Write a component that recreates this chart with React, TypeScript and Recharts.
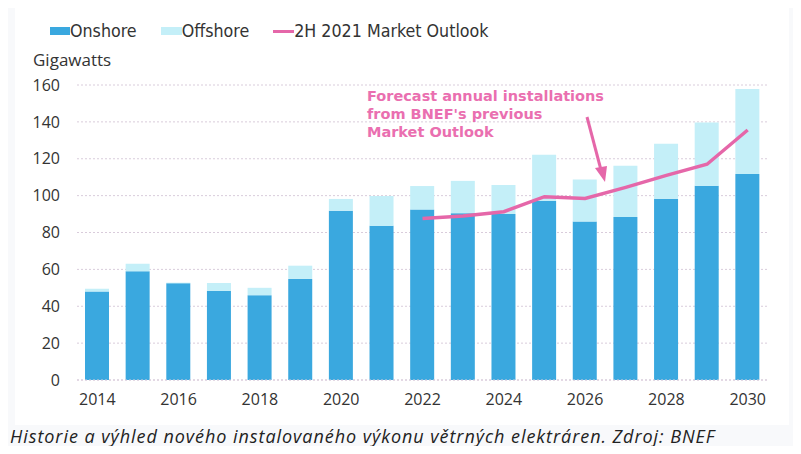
import { ComposedChart, Bar, Line, XAxis, YAxis, CartesianGrid } from "recharts";

const years = ["2014", "2015", "2016", "2017", "2018", "2019", "2020", "2021", "2022", "2023", "2024", "2025", "2026", "2027", "2028", "2029", "2030"];
const onshore = [48, 59, 52.5, 48.3, 46, 54.8, 91.8, 83.6, 92.5, 90.5, 90, 97.2, 86, 88.4, 98.3, 105.4, 111.7];
const offshore = [1.5, 4, 0.3, 4.3, 4, 7.2, 6.4, 16.2, 12.7, 17.5, 15.7, 25, 22.8, 27.8, 29.9, 34.3, 46.1];
const outlook = [null, null, null, null, null, null, null, null, 87.6, 89, 91.3, 99.4, 98.5, 104.5, 111, 117, 135.6];
const yTicks = [0, 20, 40, 60, 80, 100, 120, 140, 160];

const data = years.map((year, i) => ({
  year,
  onshore: onshore[i],
  offshore: offshore[i],
  outlook: outlook[i],
}));

const ON = "#3aa8df";
const OFF = "#c4eff8";
const PINK = "#e567a9";
const legendFont = "'DejaVu Sans Condensed', 'DejaVu Sans', sans-serif";

export default function App() {
  return (
    <div style={{ position: "relative", width: 801, height: 454, margin: -8, background: "#f8f9fb", overflow: "hidden" }}>
      <div style={{ position: "absolute", left: 15, top: 7, width: 774, height: 418, background: "#fff" }} />

      {/* legend */}
      <div style={{ position: "absolute", left: 50, top: 20, height: 22, display: "flex", alignItems: "center", fontFamily: legendFont, fontSize: 17.7, color: "#333", whiteSpace: "nowrap" }}>
        <span style={{ width: 20, height: 8, background: ON, display: "inline-block" }} />
        <span style={{ marginRight: 24 }}>Onshore</span>
        <span style={{ width: 21, height: 8, background: OFF, display: "inline-block" }} />
        <span style={{ marginRight: 24 }}>Offshore</span>
        <span style={{ width: 21, height: 3, background: PINK, display: "inline-block" }} />
        <span>2H 2021 Market Outlook</span>
      </div>
      <div style={{ position: "absolute", left: 33, top: 48, fontFamily: "'Open Sans', sans-serif", fontSize: 17, color: "#333" }}>
        Gigawatts
      </div>

      <div style={{ position: "absolute", left: 0, top: 0 }}>
        <ComposedChart width={801} height={420} data={data} margin={{ top: 85, right: 33, left: 17, bottom: 10 }}>
          <CartesianGrid vertical={false} stroke="#d9ccdb" strokeDasharray="2 2" />
          <XAxis
            dataKey="year"
            interval={1}
            tickLine={false}
            tickSize={0}
            tickMargin={14}
            height={30}
            axisLine={{ stroke: "#d9ccdb", strokeDasharray: "2 2" }}
            tick={{ fill: "#333", fontSize: 16, fontFamily: "'Open Sans', sans-serif" }}
          />
          <YAxis
            domain={[0, 160]}
            ticks={yTicks}
            width={60}
            axisLine={false}
            tickLine={false}
            tickSize={0}
            tickMargin={17}
            tick={{ fill: "#333", fontSize: 16, fontFamily: "'Open Sans', sans-serif" }}
          />
          <Bar dataKey="onshore" stackId="a" fill={ON} barSize={24} isAnimationActive={false} />
          <Bar dataKey="offshore" stackId="a" fill={OFF} barSize={24} isAnimationActive={false} />
          <Line dataKey="outlook" type="linear" stroke={PINK} strokeWidth={3.5} dot={false} connectNulls={false} isAnimationActive={false} />
        </ComposedChart>
      </div>

      {/* annotation */}
      <svg width={801} height={454} style={{ position: "absolute", left: 0, top: 0, pointerEvents: "none" }}>
        <g fontFamily="'DejaVu Sans', sans-serif" fontWeight="bold" fontSize={14.5} fill="#ea6fb0">
          <text x={367} y={101}>Forecast annual installations</text>
          <text x={367} y={119}>from BNEF's previous</text>
          <text x={367} y={137}>Market Outlook</text>
        </g>
        <line x1={587} y1={117} x2={601} y2={170} stroke={PINK} strokeWidth={3} />
        <polygon points="595,168 607,166 605,182" fill={PINK} />
      </svg>

      <div style={{ position: "absolute", left: 10, top: 424, fontFamily: "'Open Sans', sans-serif", fontStyle: "italic", fontSize: 18, letterSpacing: 0.95, color: "#222", whiteSpace: "nowrap" }}>
        Historie a výhled nového instalovaného výkonu větrných elektráren. Zdroj: BNEF
      </div>
    </div>
  );
}
